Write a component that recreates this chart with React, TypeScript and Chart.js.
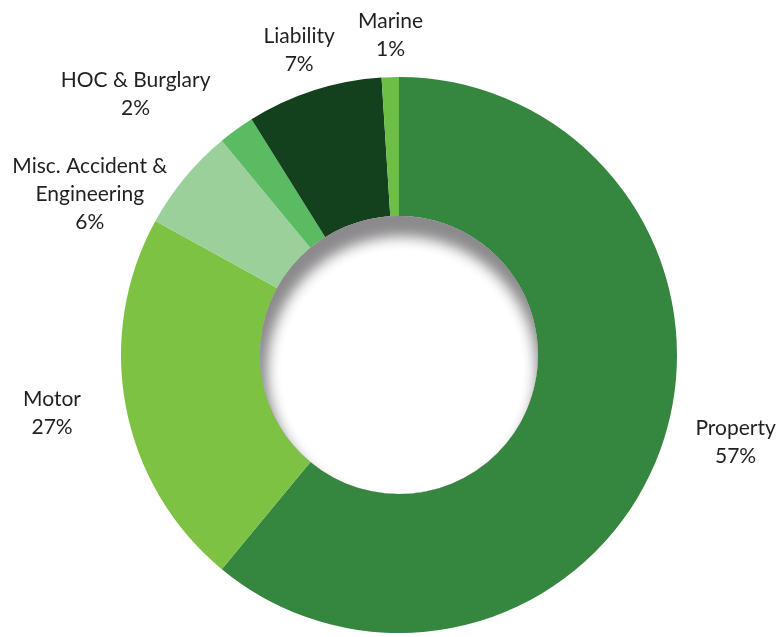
import React, { useEffect, useRef } from "react";
import { Chart, registerables } from "chart.js";

Chart.register(...registerables);

// ---- data ----
const categories = ["Property", "Motor", "Misc. Accident & Engineering", "HOC & Burglary", "Liability", "Marine"];
const categoryLines = [["Property"], ["Motor"], ["Misc. Accident &", "Engineering"], ["HOC & Burglary"], ["Liability"], ["Marine"]];
const shareLabels = ["57%", "27%", "6%", "2%", "7%", "1%"];
// slice sizes as drawn in the picture (share of the ring)
const sliceValues = [61, 22, 6, 2.1, 7.9, 1.0];
const sliceColors = ["#35873F", "#7DC242", "#9CD09B", "#5BBB62", "#14411D", "#6CBE45"];

// label placement: angle nudge (deg) from slice middle, and distance as a multiple of the outer radius
const labelAngleNudge = [-5.4, 1.4, -12, -9.4, -0.3, 0.3];
const labelDistance = [1.25, 1.265, 1.255, 1.335, 1.155, 1.155];

const FONT_SIZE = 21;
const LINE_H = 28;

const labelPlugin = {
  id: "outerLabels",
  afterDatasetsDraw(chart: any) {
    const meta = chart.getDatasetMeta(0);
    const ctx = chart.ctx as CanvasRenderingContext2D;
    const first = meta.data[0];
    const cx = first.x;
    const cy = first.y;
    const inner = first.innerRadius;
    const outer = first.outerRadius;

    // inner shadow in the hole
    ctx.save();
    ctx.beginPath();
    ctx.arc(cx, cy, inner, 0, Math.PI * 2);
    ctx.closePath();
    ctx.clip();
    ctx.fillStyle = "#ffffff";
    ctx.fill();
    for (let k = 0; k < 2; k++) {
      ctx.beginPath();
      ctx.rect(cx - inner - 300, cy - inner - 300, inner * 2 + 600, inner * 2 + 600);
      ctx.arc(cx, cy, inner, 0, Math.PI * 2, true);
      ctx.closePath();
      ctx.shadowColor = "rgba(140,138,140,1)";
      ctx.shadowBlur = 16;
      ctx.shadowOffsetX = 3;
      ctx.shadowOffsetY = 16;
      ctx.fillStyle = "#8c8a8c";
      ctx.fill("evenodd");
    }
    ctx.restore();

    // labels
    ctx.save();
    ctx.font = `${FONT_SIZE}px Lato, "Noto Sans", sans-serif`;
    ctx.fillStyle = "#231F20";
    ctx.textAlign = "center";
    ctx.textBaseline = "alphabetic";
    const capHalf = FONT_SIZE * 0.72 / 2;
    meta.data.forEach((arc: any, i: number) => {
      const mid = (arc.startAngle + arc.endAngle) / 2 + (labelAngleNudge[i] * Math.PI) / 180;
      const r = outer * labelDistance[i];
      const bx = cx + Math.cos(mid) * r;
      const by = cy + Math.sin(mid) * r;
      const lines = [...categoryLines[i], shareLabels[i]];
      const top = by - ((lines.length - 1) * LINE_H) / 2 + capHalf;
      lines.forEach((t, j) => ctx.fillText(t, bx, top + j * LINE_H));
    });
    ctx.restore();
  },
};

export default function App() {
  const ref = useRef<HTMLCanvasElement | null>(null);
  useEffect(() => {
    if (!ref.current) return;
    const chart = new Chart(ref.current, {
      type: "doughnut",
      data: {
        labels: categories,
        datasets: [
          {
            data: sliceValues,
            backgroundColor: sliceColors,
            borderWidth: 0,
          },
        ],
      },
      options: {
        responsive: false,
        animation: false,
        cutout: "50%",
        rotation: 0,
        layout: { padding: { left: 121, right: 103, top: 77, bottom: 4 } },
        plugins: {
          legend: { display: false },
          tooltip: { enabled: false },
        },
      },
      plugins: [labelPlugin],
    });
    return () => chart.destroy();
  }, []);
  return (
    <div style={{ position: "fixed", left: 0, top: 0, width: 780, height: 637, background: "#ffffff" }}>
      <canvas ref={ref} width={780} height={637} style={{ width: 780, height: 637, display: "block" }} />
    </div>
  );
}
